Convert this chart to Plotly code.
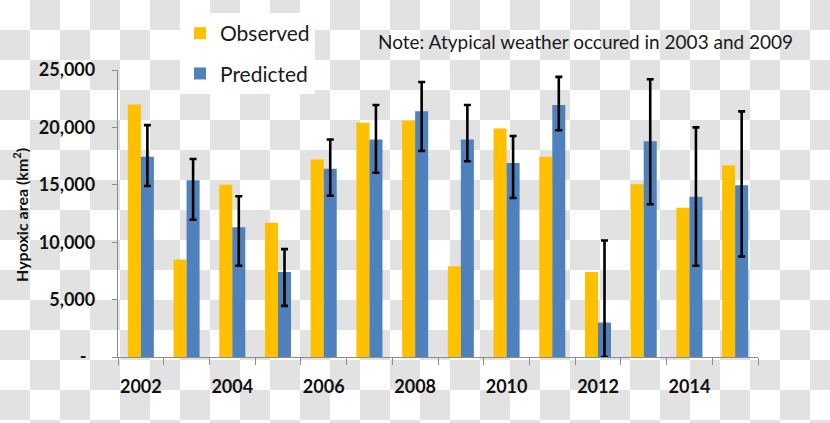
import plotly.graph_objects as go

# ---- data ----
years = [2002, 2003, 2004, 2005, 2006, 2007, 2008,
         2009, 2010, 2011, 2012, 2013, 2014, 2015]
label_years = [2002, 2004, 2006, 2008, 2010, 2012, 2014]
label_text = ["2002", "2004", "2006", "2008", "2010", "2012", "2014"]
observed = [22000, 8500, 15000, 11700, 17200, 20400, 20600,
            7900, 19900, 17450, 7400, 15050, 13000, 16700]
predicted = [17450, 15400, 11300, 7400, 16400, 18950, 21400,
             18950, 16900, 21950, 3000, 18800, 13950, 14950]
pred_upper = [20200, 17250, 14000, 9400, 18950, 21950, 23950,
              21950, 19250, 24400, 10150, 24200, 20000, 21400]
pred_lower = [14900, 11950, 7950, 4450, 14050, 16050, 17950,
              17050, 13850, 19750, 0, 13300, 7950, 8750]
y_tickvals = [0, 5000, 10000, 15000, 20000, 25000]
y_ticktext = ["-\u00a0\u00a0", "5,000", "10,000", "15,000", "20,000", "25,000"]

err_plus = [u - p for u, p in zip(pred_upper, predicted)]
err_minus = [p - l for p, l in zip(predicted, pred_lower)]

W, H = 830, 423
L, R, T, B = 118, 72, 70, 66
PW, PH = W - L - R, H - T - B

FONT = "Lato"

fig = go.Figure()
fig.add_trace(go.Bar(
    x=years, y=observed, name="Observed", marker_color="#FFC000",
    marker_line_width=0, legendgroup="a"))
fig.add_trace(go.Bar(
    x=years, y=predicted, name="Predicted", marker_color="#4F81BD",
    marker_line_width=0, legendgroup="b",
    error_y=dict(type="data", symmetric=False, array=err_plus,
                 arrayminus=err_minus, color="black", thickness=2.6, width=3.5)))

# checkerboard background (transparent-image look)
shapes = []
sq = 30
for i in range(W // sq + 1):
    for j in range(H // sq + 1):
        if (i + j) % 2 == 1:
            x0 = (i * sq - L) / PW
            x1 = ((i + 1) * sq - L) / PW
            y0 = 1 - (j * sq - T) / PH
            y1 = 1 - ((j + 1) * sq - T) / PH
            shapes.append(dict(type="rect", xref="paper", yref="paper",
                               x0=x0, x1=x1, y0=y1, y1=y0, layer="below",
                               fillcolor="#e2e2e2", line_width=0))

fig.update_layout(
    width=W, height=H,
    margin=dict(l=L, r=R, t=T, b=B, autoexpand=False),
    paper_bgcolor="white", plot_bgcolor="rgba(0,0,0,0)",
    font=dict(family=FONT, color="#1a1a1a"),
    barmode="group", bargap=0.43, bargroupgap=0,
    shapes=shapes,
    showlegend=True,
    legend=dict(x=(180 - L) / PW, y=1 + (T - 13) / PH, xanchor="left", yanchor="top",
                bgcolor="white", font=dict(family=FONT, size=21, color="#1a1a1a"),
                traceorder="grouped", tracegroupgap=10, itemclick=False),
    xaxis=dict(range=[years[0] - 0.5, years[-1] + 0.5], tickmode="array",
               tickvals=label_years, ticktext=label_text, tickangle=0,
               ticks="", showline=True, linecolor="#8c8c8c", linewidth=1.3,
               showgrid=False, zeroline=False, ticklabelstandoff=13,
               minor=dict(tickmode="linear", tick0=years[0] - 0.5, dtick=1,
                          ticks="outside", ticklen=7, tickcolor="#8c8c8c",
                          tickwidth=1.3, showgrid=False),
               tickfont=dict(family=FONT, size=18, color="#111", weight="bold")),
    yaxis=dict(range=[0, 25000], tickmode="array", tickvals=y_tickvals,
               ticktext=y_ticktext, ticks="outside", ticklen=5,
               tickcolor="#8c8c8c", tickwidth=1.3, showline=True, linecolor="#8c8c8c",
               linewidth=1.3, showgrid=False, zeroline=False,
               ticklabelstandoff=13,
               tickfont=dict(family=FONT, size=18, color="#111", weight="bold")),
    annotations=[
        dict(text="Note: Atypical weather occured in 2003 and 2009",
             xref="paper", yref="paper", x=(376 - L) / PW, y=1 + (T - 42) / PH,
             xanchor="left", yanchor="middle", showarrow=False,
             font=dict(family=FONT, size=19, color="#1a1a1a")),
        dict(text="Hypoxic area (km<sup>2</sup>)", textangle=-90,
             xref="paper", yref="paper", x=(20 - L) / PW, y=1 - (215 - T) / PH,
             xanchor="center", yanchor="middle", showarrow=False,
             font=dict(family=FONT, size=16, color="#111", weight="bold")),
    ],
)

fig.write_html("out.html", config={"displayModeBar": False},
               post_script="document.body.style.margin='0';document.body.style.padding='0';")
